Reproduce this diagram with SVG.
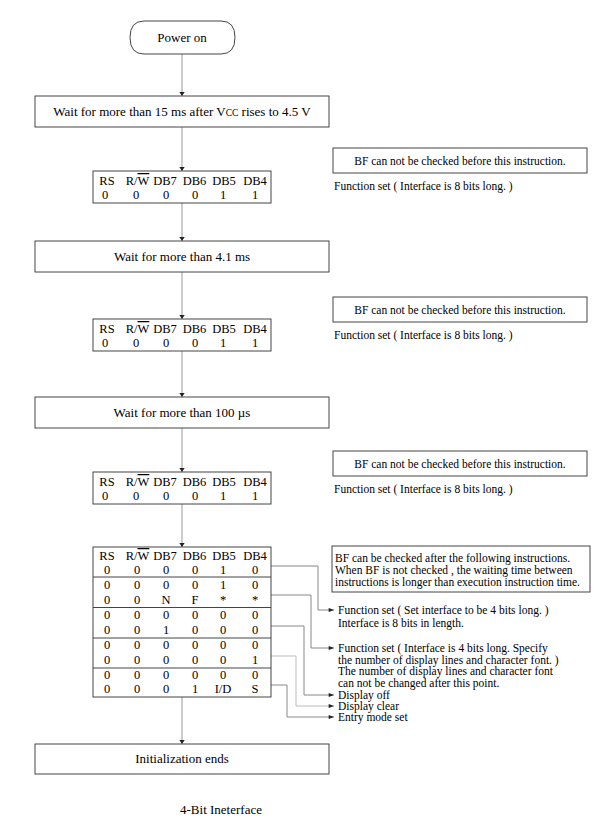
<svg xmlns="http://www.w3.org/2000/svg" width="603" height="822" viewBox="0 0 603 822" font-family="'Liberation Serif','DejaVu Serif',serif">
<defs>
<style>
text{font-family:"Liberation Serif","DejaVu Serif",serif;fill:#000}
.m{font-size:13px}
.t{font-size:12.5px;text-anchor:middle}
.s{font-size:11.5px}
.c{text-anchor:middle}
.box{fill:#fff;stroke:#444;stroke-width:1}
.flow{fill:none;stroke:#999;stroke-width:1}
.lead{fill:none;stroke:#888;stroke-width:1}
.lead2{fill:none;stroke:#bbb;stroke-width:1}
.ol{text-decoration:overline}
</style>
<marker id="ah" viewBox="0 0 6 8" refX="6" refY="4" markerWidth="4" markerHeight="6" orient="auto" markerUnits="userSpaceOnUse">
<path d="M0,0 L6,4 L0,8 z" fill="#222"/>
</marker>
<marker id="ah2" viewBox="0 0 8 6" refX="8" refY="3" markerWidth="7" markerHeight="4" orient="auto" markerUnits="userSpaceOnUse">
<path d="M0,0 L8,3 L0,6 z" fill="#222"/>
</marker>
</defs>
<rect width="603" height="822" fill="#fff"/>

<g id="connectors">
<path class="flow" d="M182,54 V96" marker-end="url(#ah)"/>
<path class="flow" d="M182,127 V171" marker-end="url(#ah)"/>
<path class="flow" d="M182,203 V241" marker-end="url(#ah)"/>
<path class="flow" d="M182,272 V319" marker-end="url(#ah)"/>
<path class="flow" d="M182,351 V397" marker-end="url(#ah)"/>
<path class="flow" d="M182,428 V472" marker-end="url(#ah)"/>
<path class="flow" d="M182,504 V547" marker-end="url(#ah)"/>
<path class="flow" d="M182,697 V744" marker-end="url(#ah)"/>
<path class="lead" d="M271,566 H318 V610 H334" marker-end="url(#ah2)"/>
<path class="lead" d="M271,595 H311 V648 H334" marker-end="url(#ah2)"/>
<path class="lead" d="M271,626 H304 V695 H334" marker-end="url(#ah2)"/>
<path class="lead2" d="M271,656 H296 V706 H334" marker-end="url(#ah2)"/>
<path class="lead" d="M271,685 H287 V717 H334" marker-end="url(#ah2)"/>
</g>

<g id="power-on">
<path class="box" d="M144,21 H221 Q235,21 235,37.5 Q235,54 221,54 H144 Q130,54 130,37.5 Q130,21 144,21 z"/>
<text class="m c" x="182" y="42">Power on</text>
</g>

<g id="wait-15ms">
<rect class="box" x="35" y="96" width="294" height="31"/>
<text class="m c" x="182" y="116">Wait for more than 15 ms after V<tspan font-size="9.5">CC</tspan>  rises to 4.5 V</text>
</g>

<g id="cmd-1">
<rect class="box" x="93" y="171" width="178" height="32"/>
<text class="t" x="107" y="185">RS</text><text class="t" x="137.5" y="185">R/<tspan class="ol">W</tspan></text><text class="t" x="165" y="185">DB7</text><text class="t" x="194.5" y="185">DB6</text><text class="t" x="224" y="185">DB5</text><text class="t" x="255" y="185">DB4</text>
<text class="t" x="105" y="199">0</text><text class="t" x="136" y="199">0</text><text class="t" x="166" y="199">0</text><text class="t" x="195" y="199">0</text><text class="t" x="223" y="199">1</text><text class="t" x="255" y="199">1</text>
</g>

<g id="note-1">
<rect class="box" x="333" y="148" width="254" height="25"/>
<text class="s c" x="460" y="165">BF can not be checked before this instruction.</text>
<text class="s" x="334" y="190">Function set ( Interface is 8 bits long. )</text>
</g>

<g id="wait-4ms">
<rect class="box" x="35" y="241" width="294" height="31"/>
<text class="m c" x="182" y="261">Wait for more than 4.1 ms</text>
</g>

<g id="cmd-2">
<rect class="box" x="93" y="319" width="178" height="32"/>
<text class="t" x="107" y="333">RS</text><text class="t" x="137.5" y="333">R/<tspan class="ol">W</tspan></text><text class="t" x="165" y="333">DB7</text><text class="t" x="194.5" y="333">DB6</text><text class="t" x="224" y="333">DB5</text><text class="t" x="255" y="333">DB4</text>
<text class="t" x="105" y="347">0</text><text class="t" x="136" y="347">0</text><text class="t" x="166" y="347">0</text><text class="t" x="195" y="347">0</text><text class="t" x="223" y="347">1</text><text class="t" x="255" y="347">1</text>
</g>

<g id="note-2">
<rect class="box" x="333" y="297" width="254" height="25"/>
<text class="s c" x="460" y="314">BF can not be checked before this instruction.</text>
<text class="s" x="334" y="339">Function set ( Interface is 8 bits long. )</text>
</g>

<g id="wait-100us">
<rect class="box" x="35" y="397" width="294" height="31"/>
<text class="m c" x="182" y="417">Wait for more than 100 µs</text>
</g>

<g id="cmd-3">
<rect class="box" x="93" y="472" width="178" height="32"/>
<text class="t" x="107" y="486">RS</text><text class="t" x="137.5" y="486">R/<tspan class="ol">W</tspan></text><text class="t" x="165" y="486">DB7</text><text class="t" x="194.5" y="486">DB6</text><text class="t" x="224" y="486">DB5</text><text class="t" x="255" y="486">DB4</text>
<text class="t" x="105" y="500">0</text><text class="t" x="136" y="500">0</text><text class="t" x="166" y="500">0</text><text class="t" x="195" y="500">0</text><text class="t" x="223" y="500">1</text><text class="t" x="255" y="500">1</text>
</g>

<g id="note-3">
<rect class="box" x="333" y="451" width="254" height="25"/>
<text class="s c" x="460" y="468">BF can not be checked before this instruction.</text>
<text class="s" x="334" y="493">Function set ( Interface is 8 bits long. )</text>
</g>

<g id="cmd-4bit">
<rect class="box" x="93" y="547" width="178" height="150"/>
<path d="M93,577 H271 M93,607.5 H271 M93,638 H271 M93,668 H271" stroke="#444" stroke-width="1"/>
<text class="t" x="107" y="560">RS</text><text class="t" x="137.5" y="560">R/<tspan class="ol">W</tspan></text><text class="t" x="165" y="560">DB7</text><text class="t" x="194.5" y="560">DB6</text><text class="t" x="224" y="560">DB5</text><text class="t" x="255" y="560">DB4</text>
<text class="t" x="107" y="574">0</text><text class="t" x="137" y="574">0</text><text class="t" x="166" y="574">0</text><text class="t" x="195" y="574">0</text><text class="t" x="223" y="574">1</text><text class="t" x="255" y="574">0</text>
<text class="t" x="107" y="589">0</text><text class="t" x="137" y="589">0</text><text class="t" x="166" y="589">0</text><text class="t" x="195" y="589">0</text><text class="t" x="223" y="589">1</text><text class="t" x="255" y="589">0</text>
<text class="t" x="107" y="603.5">0</text><text class="t" x="137" y="603.5">0</text><text class="t" x="166" y="603.5">N</text><text class="t" x="195" y="603.5">F</text><text class="t" x="223" y="603.5">*</text><text class="t" x="255" y="603.5">*</text>
<text class="t" x="107" y="618.5">0</text><text class="t" x="137" y="618.5">0</text><text class="t" x="166" y="618.5">0</text><text class="t" x="195" y="618.5">0</text><text class="t" x="223" y="618.5">0</text><text class="t" x="255" y="618.5">0</text>
<text class="t" x="107" y="633.5">0</text><text class="t" x="137" y="633.5">0</text><text class="t" x="166" y="633.5">1</text><text class="t" x="195" y="633.5">0</text><text class="t" x="223" y="633.5">0</text><text class="t" x="255" y="633.5">0</text>
<text class="t" x="107" y="648.5">0</text><text class="t" x="137" y="648.5">0</text><text class="t" x="166" y="648.5">0</text><text class="t" x="195" y="648.5">0</text><text class="t" x="223" y="648.5">0</text><text class="t" x="255" y="648.5">0</text>
<text class="t" x="107" y="663.5">0</text><text class="t" x="137" y="663.5">0</text><text class="t" x="166" y="663.5">0</text><text class="t" x="195" y="663.5">0</text><text class="t" x="223" y="663.5">0</text><text class="t" x="255" y="663.5">1</text>
<text class="t" x="107" y="678.5">0</text><text class="t" x="137" y="678.5">0</text><text class="t" x="166" y="678.5">0</text><text class="t" x="195" y="678.5">0</text><text class="t" x="223" y="678.5">0</text><text class="t" x="255" y="678.5">0</text>
<text class="t" x="107" y="693">0</text><text class="t" x="137" y="693">0</text><text class="t" x="166" y="693">0</text><text class="t" x="195" y="693">1</text><text class="t" x="223" y="693">I/D</text><text class="t" x="255" y="693">S</text>
</g>

<g id="note-4">
<rect class="box" x="332" y="546" width="258" height="46"/>
<text class="s" x="335" y="562">BF can  be checked after the following instructions.</text>
<text class="s" x="335" y="574">When BF is not checked , the waiting time between</text>
<text class="s" x="335" y="586">instructions is longer than execution instruction time.</text>
</g>

<g id="labels">
<text class="s" x="338" y="614">Function set ( Set interface to be 4 bits long. )</text>
<text class="s" x="338" y="627">Interface is 8 bits in length.</text>
<text class="s" x="338" y="652">Function set ( Interface is 4 bits long. Specify</text>
<text class="s" x="338" y="663.5">the number of display lines and   character font. )</text>
<text class="s" x="338" y="675">The number of display lines and character font</text>
<text class="s" x="338" y="686.5">can not be changed after this point.</text>
<text class="s" x="338" y="699">Display off</text>
<text class="s" x="338" y="710">Display clear</text>
<text class="s" x="338" y="721">Entry mode set</text>
</g>

<g id="init-ends">
<rect class="box" x="35" y="744" width="294" height="30"/>
<text class="m c" x="182" y="763">Initialization ends</text>
</g>

<g id="caption">
<text class="m c" x="221" y="814">4-Bit Ineterface</text>
</g>
</svg>
